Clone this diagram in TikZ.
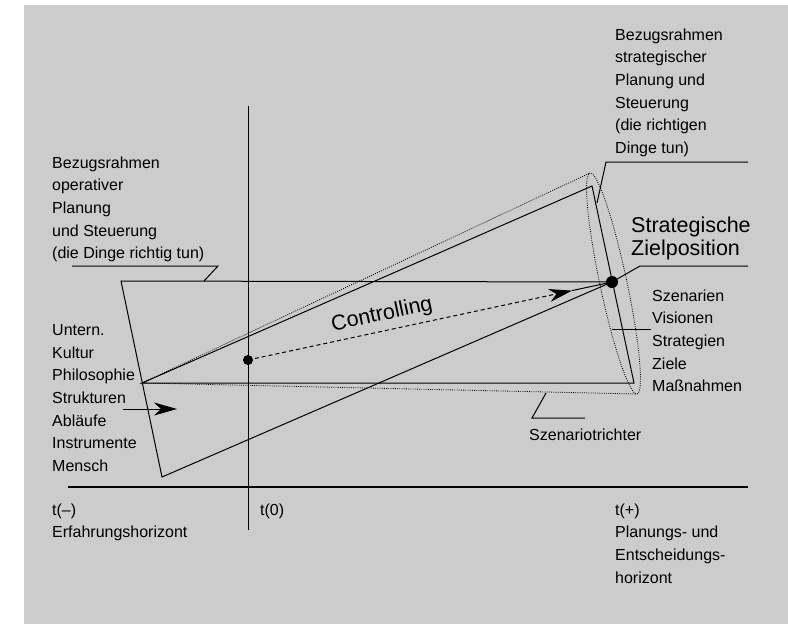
\documentclass[tikz,border=0pt]{standalone}
\usepackage{fontspec}
\setmainfont{Liberation Sans}
\usetikzlibrary{arrows.meta}
\definecolor{bgray}{RGB}{204,204,204}
\tikzset{
  lbl/.style={anchor=north west, inner sep=0pt, align=left, font=\fontsize{16}{22.6}\selectfont},
  biglbl/.style={anchor=north west, inner sep=0pt, align=left, font=\fontsize{21.5}{22.5}\selectfont},
  ln/.style={line width=1pt, black},
  dotln/.style={line width=0.8pt, dash pattern=on 0.9pt off 1.3pt, black},
  dashln/.style={line width=1pt, dash pattern=on 4pt off 3pt, black},
  bigtip/.style={-{Stealth[length=23pt,width=13pt,inset=7pt]}}
}
\begin{document}
\begin{tikzpicture}[x=1pt,y=-1pt]
\useasboundingbox (0,0) rectangle (788,627);
\fill[bgray] (24,5) rectangle (788,624);

% key points
\coordinate (A) at (142,383);
\coordinate (T) at (612,282);
\coordinate (D) at (248,360);
\coordinate (OL1) at (121,281);
\coordinate (OL2) at (162,477);
\coordinate (SU) at (592,186);
\coordinate (SB) at (634,383);
\coordinate (DU) at (590,173);
\coordinate (DB) at (637,394);
\coordinate (EC) at (613.5,283.5);
\coordinate (AT) at (572,290.6);
\coordinate (V1) at (248,106);
\coordinate (V2) at (248,530);
\coordinate (H1) at (68,487);
\coordinate (H2) at (748,487);

% scenario funnel (dotted)
\draw[dotln] (A) -- (DU);
\draw[dotln] (A) -- (DB);
\draw[dotln, rotate around={12:(EC)}] (EC) ellipse[x radius=13.5, y radius=113];

% strategic frame
\draw[ln] (A) -- (SU) -- (SB) -- cycle;

% operative frame
\draw[ln] (T) -- (OL1) -- (OL2) -- (T);

% time axes
\draw[ln] (V1) -- (V2);
\draw[line width=2.6pt] (H1) -- (H2);

% controlling arrow
\draw[dashln, bigtip] (D) -- (AT);
\draw[ln] (AT) -- (T);
\fill (D) circle (5);
\fill (T) circle (6);

% left arrow
\coordinate (LA1) at (123,409);
\coordinate (LA2) at (177,409);
\draw[ln, bigtip] (LA1) -- (LA2);

% leader lines
\coordinate (L1a) at (72,266);
\coordinate (L1b) at (218,266);
\coordinate (L1c) at (204,281);
\draw[ln] (L1a) -- (L1b) -- (L1c);
\coordinate (L2a) at (748,162);
\coordinate (L2b) at (606,162);
\coordinate (L2c) at (597,203);
\draw[ln] (L2a) -- (L2b) -- (L2c);
\coordinate (L3b) at (640,266);
\coordinate (L3c) at (748,266);
\draw[ln] (T) -- (L3b) -- (L3c);
\coordinate (L4a) at (612,329);
\coordinate (L4b) at (651,329);
\draw[ln] (L4a) -- (L4b);
\coordinate (L5a) at (546,393);
\coordinate (L5b) at (532,418);
\coordinate (L5c) at (585,418);
\draw[ln] (L5a) -- (L5b) -- (L5c);

% texts
\node[lbl] (opLabel) at (52,156.5) {Bezugsrahmen\\operativer\\Planung\\und Steuerung\\(die Dinge richtig tun)};
\node[lbl] (leftList) at (52,324.5) {Untern.\\Kultur\\Philosophie\\Strukturen\\Abläufe\\Instrumente\\Mensch};
\node[lbl] (stLabel) at (615,28.5) {Bezugsrahmen\\strategischer\\Planung und\\Steuerung\\(die richtigen\\Dinge tun)};
\node[biglbl] (target) at (631,217) {Strategische\\Zielposition};
\node[lbl] (rightList) at (652,289.5) {Szenarien\\Visionen\\Strategien\\Ziele\\Maßnahmen};
\node[lbl] (funnel) at (529,428.5) {Szenariotrichter};
\node[lbl] (tminus) at (52,503.5) {t(–)\\Erfahrungshorizont};
\node[lbl] (tzero) at (260,503.5) {t(0)};
\node[lbl] (tplus) at (615,503.5) {t(+)\\Planungs- und\\Entscheidungs-\\horizont};
\node[font=\fontsize{21.5}{22.5}\selectfont, rotate=12, inner sep=0pt] (ctrl) at (382,315) {Controlling};
\end{tikzpicture}
\end{document}
